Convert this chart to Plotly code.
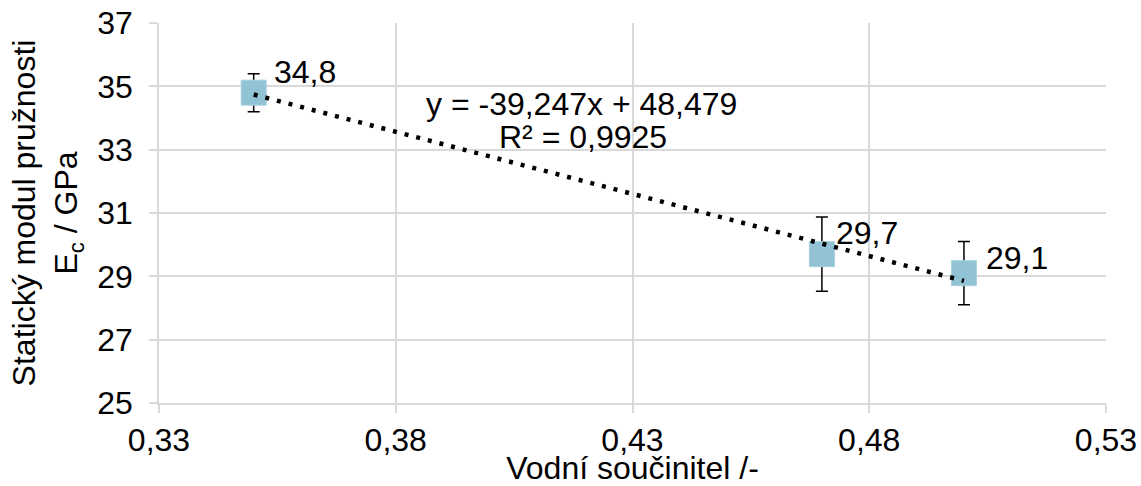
import plotly.graph_objects as go

x_vals = [0.35, 0.47, 0.50]
y_vals = [34.8, 29.7, 29.1]
y_err = [0.6, 1.17, 1.0]
labels = ["34,8", "29,7", "29,1"]
slope = -39.247
intercept = 48.479
x_ticks = [0.33, 0.38, 0.43, 0.48, 0.53]
x_tick_text = ["0,33", "0,38", "0,43", "0,48", "0,53"]
y_ticks = [25, 27, 29, 31, 33, 35, 37]
eq_text = "y = -39,247x + 48,479"
r2_text = "R² = 0,9925"

font = "Liberation Sans, Arial, sans-serif"
FS = 32
trend_x = [min(x_vals), max(x_vals)]
trend_y = [slope * v + intercept for v in trend_x]

fig = go.Figure()
fig.add_trace(go.Scatter(
    x=x_vals, y=y_vals, mode="markers",
    marker=dict(symbol="square", size=25, color="#92C3D5", line=dict(color="#A9D0DE", width=1)),
    error_y=dict(type="data", array=y_err, visible=True, color="black", thickness=1.5, width=6),
    showlegend=False, hoverinfo="skip"))
fig.add_trace(go.Scatter(
    x=trend_x, y=trend_y, mode="lines",
    line=dict(color="black", width=4.5, dash="4px,8px"),
    showlegend=False, hoverinfo="skip"))

label_offsets = [(18, 21), (12, 21), (20, 15)]
for xv, yv, t, (dx, dy) in zip(x_vals, y_vals, labels, label_offsets):
    fig.add_annotation(x=xv, y=yv, text=t, showarrow=False, xanchor="left", yanchor="middle",
                       xshift=dx, yshift=dy, font=dict(size=FS, color="black", family=font))

fig.add_annotation(x=0.4193, y=34.45, text=eq_text, showarrow=False,
                   xanchor="center", yanchor="middle",
                   font=dict(size=FS, color="black", family=font))
fig.add_annotation(x=0.4195, y=33.40, text=r2_text, showarrow=False,
                   xanchor="center", yanchor="middle",
                   font=dict(size=FS, color="black", family=font))

fig.update_layout(
    width=1141, height=486,
    margin=dict(l=159, r=35, t=23, b=83, autoexpand=False),
    paper_bgcolor="white", plot_bgcolor="white",
    font=dict(family=font, size=FS, color="black"),
    xaxis=dict(range=[0.33, 0.53], tickvals=x_ticks, ticktext=x_tick_text,
               showgrid=True, gridcolor="#D9D9D9", gridwidth=1.5,
               showline=True, linecolor="#D9D9D9", linewidth=1.5,
               ticks="outside", ticklen=8, tickcolor="#D9D9D9", tickwidth=1.5,
               zeroline=False, tickfont=dict(size=FS), automargin=False,
               title=dict(text="Vodní součinitel /-", font=dict(size=FS), standoff=4)),
    yaxis=dict(range=[25, 37], tickvals=y_ticks,
               showgrid=True, gridcolor="#D9D9D9", gridwidth=1.5,
               showline=True, linecolor="#D9D9D9", linewidth=1.5,
               ticks="outside", ticklen=8, tickcolor="#D9D9D9", tickwidth=1.5,
               zeroline=False, tickfont=dict(size=FS), ticklabelstandoff=10, automargin=False,
               title=dict(text="Statický modul pružnosti<br>E<sub>c</sub> / GPa", font=dict(size=FS), standoff=10)),
)

fig.write_html("out.html", config={"displayModeBar": False})
with open("out.html", "r", encoding="utf-8") as f:
    html = f.read()
html = html.replace("<body>", '<body style="margin:0;padding:0;">', 1)
with open("out.html", "w", encoding="utf-8") as f:
    f.write(html)
